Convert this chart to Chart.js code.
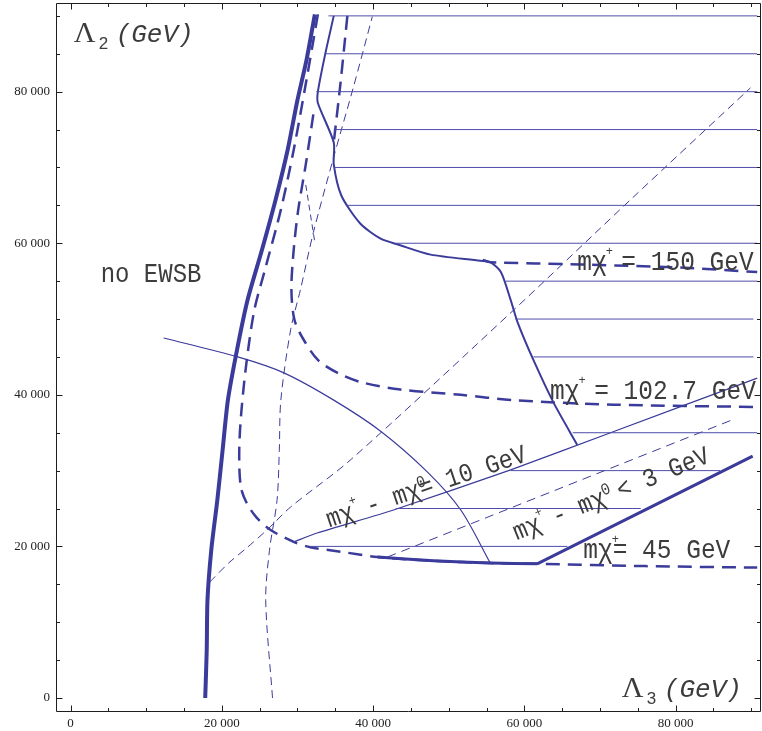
<!DOCTYPE html>
<html>
<head>
<meta charset="utf-8">
<script src="https://cdn.jsdelivr.net/npm/chart.js@4.4.0/dist/chart.umd.min.js"></script>
<style>
  html, body { margin: 0; padding: 0; background: #fff; }
  #caja { width: 762px; height: 731px; }
</style>
</head>
<body>
<div id="caja"><canvas id="grafica"></canvas></div>
<script>
// marcas de los ejes
const marcasX = [0, 20000, 40000, 60000, 80000];
const marcasY = [0, 20000, 40000, 60000, 80000];
const menoresX = [5000, 10000, 15000, 25000, 30000, 35000, 45000, 50000, 55000, 65000, 70000, 75000, 85000, 90000];
const menoresY = [5000, 10000, 15000, 25000, 30000, 35000, 45000, 50000, 55000, 65000, 70000, 75000, 85000, 90000];

// borde de EWSB (linea gruesa)
const ewsbX = [17800, 18000, 18100, 18600, 19400, 20100, 20800, 22000, 23400, 25300, 27100, 28700, 30000, 31200, 32300];
const ewsbY = [0, 6300, 12900, 19500, 26100, 32700, 39300, 45900, 52500, 59100, 65700, 72300, 78900, 84200, 90200];

// m chi+ = 45 GeV (discontinua)
const m45X = [32700, 31200, 29500, 27800, 25700, 24300, 23300, 22600, 22300, 22500, 23300, 24600, 26400, 29500, 31700, 35700, 40600, 48000, 55500, 61700, 76000, 90800];
const m45Y = [90200, 81600, 72300, 64400, 56500, 51200, 44600, 38000, 32700, 27900, 25700, 23800, 22200, 20600, 19900, 19300, 18600, 18100, 17800, 17700, 17400, 17200];

// m chi+ = 102.7 GeV
const m102X = [32100, 31100, 30100, 29500, 29200, 29600, 30800, 32700, 35300, 38300, 43600, 51600, 58600, 71800, 90800];
const m102Y = [77000, 70400, 64400, 59100, 53900, 49900, 47300, 44600, 42900, 41700, 40700, 40000, 39300, 38700, 38400];

// m chi+ = 150 GeV (dos tramos)
const m150aX = [36600, 35700, 34800];
const m150aY = [90000, 81200, 73300];
const m150bX = [54500, 55500, 67400, 80600, 90800];
const m150bY = [57800, 57500, 57200, 56800, 56200];

// frontera de la zona rayada superior
const fronteraX = [34800, 33700, 32700, 32700, 34800, 34800, 35800, 38300, 41000, 43400, 47600, 54200, 55500, 56900, 58200, 59100, 61200, 63900, 67000];
const fronteraY = [90000, 85100, 80000, 78500, 73300, 70400, 66300, 62600, 60600, 59800, 58500, 57700, 57500, 56200, 52500, 49600, 44600, 38900, 33400];

// tramo solido inferior y borde grueso derecho
const corteX = [40600, 48000, 55500, 61700];
const corteY = [18600, 18100, 17800, 17700];
const lepX = [61700, 90200];
const lepY = [17700, 31900];

// m chi+ - m chi0 = 10 GeV y < 3 GeV
const dif10X = [29500, 32700, 42700, 58200, 71400, 90800];
const dif10Y = [20600, 21800, 24800, 30100, 35000, 42200];
const dif3X = [41900, 87500];
const dif3Y = [18600, 36700];

// arco fino
const arcoX = [12300, 22100, 28200, 34800, 41000, 47200, 51600, 55500];
const arcoY = [47500, 45000, 42900, 39300, 35200, 29800, 24800, 17800];

// discontinuas finas
const finaAX = [18400, 20900, 23400, 26000, 29100, 37000, 58600, 74000, 89900];
const finaAY = [15300, 17800, 19900, 22200, 25200, 31400, 51200, 65700, 80500];
const finaBX = [26700, 25800, 26300, 27300, 27600, 27800, 29100, 30400, 32100, 34800, 37400, 39900];
const finaBY = [0, 12900, 19500, 26100, 32700, 39300, 48600, 53900, 61400, 71400, 80600, 89900];
const finaCX = [31100, 32300];
const finaCY = [67700, 60100];

// rayado horizontal
const rayasY = [90000, 85000, 80000, 75000, 70000, 65000, 60000, 55000, 50000, 45000, 35000, 30000, 25000, 20000];
const rayasDesde = [34100, 33700, 32500, 34800, 34800, 36400, 43000, 57500, 58800, 61200, 66400, 58200, 43000, 31700];
const rayasHasta = [90800, 90800, 90800, 90800, 90800, 90800, 90800, 90800, 90300, 90300, 90800, 85900, 75400, 65700];

const AZUL = '#3b3b9b';
const AZUL_RAYA = '#4d4dab';
const TINTA = '#3c3c3c';

function linea(xs, ys, ancho, guiones, tension, color) {
  return {
    data: xs.map((x, i) => ({ x: x, y: ys[i] })),
    showLine: true,
    pointRadius: 0,
    borderColor: color || AZUL,
    borderWidth: ancho,
    borderDash: guiones || [],
    tension: tension || 0,
    fill: false
  };
}

const conjuntos = [];
rayasY.forEach((v, i) => {
  conjuntos.push(linea([rayasDesde[i], rayasHasta[i]], [v, v], 1, null, 0, AZUL_RAYA));
});
conjuntos.push(linea(ewsbX, ewsbY, 4, null, 0.25));
conjuntos.push(linea(m45X, m45Y, 2.5, [14, 8], 0.3));
conjuntos.push(linea(m102X, m102Y, 2.5, [14, 8], 0.3));
conjuntos.push(linea(m150aX, m150aY, 2.5, [14, 8], 0.2));
conjuntos.push(linea(m150bX, m150bY, 2.5, [14, 8], 0.2));
conjuntos.push(linea(fronteraX, fronteraY, 2, null, 0.25));
conjuntos.push(linea(corteX, corteY, 3, null, 0.2));
conjuntos.push(linea(lepX, lepY, 3));
conjuntos.push(linea(dif10X, dif10Y, 1.2, null, 0.2));
conjuntos.push(linea(dif3X, dif3Y, 1, [9, 6]));
conjuntos.push(linea(arcoX, arcoY, 1.2, null, 0.3));
conjuntos.push(linea(finaAX, finaAY, 1, [8, 5], 0.3));
conjuntos.push(linea(finaBX, finaBY, 1, [8, 5], 0.3));
conjuntos.push(linea(finaCX, finaCY, 1, [6, 4]));

// textos en coordenadas de datos
const etiquetas = [
  { x: 3970, y: 54900, ang: 0, tam: 24, partes: [{ t: 'no EWSB' }] },
  { x: 67000, y: 56500, ang: 0, tam: 24.5, partes: [{ t: 'mχ' }, { t: '+', sup: 12, dy: -15 }, { t: ' = 150 GeV' }] },
  { x: 63400, y: 39500, ang: 0, tam: 24.5, partes: [{ t: 'mχ' }, { t: '+', sup: 12, dy: -15 }, { t: ' = 102.7 GeV' }] },
  { x: 67800, y: 18500, ang: 0, tam: 24.5, partes: [{ t: 'mχ' }, { t: '+', sup: 12, dy: -15 }, { t: '= 45 GeV' }] },
  { x: 34200, y: 22500, ang: -18.5, tam: 23.3, partes: [{ t: 'mχ' }, { t: '+', sup: 12, dy: -14 }, { t: ' - mχ' }, { t: '0', sup: 15, dy: -9 }, { t: '= 10 GeV' }] },
  { x: 59000, y: 20800, ang: -22, tam: 23.3, partes: [{ t: 'mχ' }, { t: '+', sup: 12, dy: -14 }, { t: ' - mχ' }, { t: '0', sup: 15, dy: -9 }, { t: ' < 3 GeV' }] }
];
const titulos = [
  { x: 400, y: 86600, sub: '2' },
  { x: 72900, y: 130, sub: '3' }
];

function escribir(ctx, e, px, py) {
  ctx.save();
  ctx.translate(px, py);
  ctx.rotate(e.ang * Math.PI / 180);
  ctx.scale(1, 1.12);
  ctx.fillStyle = TINTA;
  ctx.textBaseline = 'alphabetic';
  let cx = 0;
  e.partes.forEach(p => {
    if (p.sup) {
      ctx.font = p.sup + 'px "Liberation Mono"';
      ctx.fillText(p.t, cx - 1, p.dy / 1.12);
    } else {
      ctx.font = e.tam + 'px "Liberation Mono"';
      ctx.fillText(p.t, cx, 0);
      cx += ctx.measureText(p.t).width;
    }
  });
  ctx.restore();
}

function tituloEje(ctx, px, py, sub) {
  ctx.save();
  ctx.fillStyle = TINTA;
  ctx.textBaseline = 'alphabetic';
  ctx.font = '30px "Liberation Serif"';
  ctx.fillText('Λ', px, py);
  ctx.font = '17px "Liberation Sans"';
  ctx.fillText(sub, px + 25, py + 7);
  ctx.font = 'italic 26px "Liberation Mono"';
  ctx.fillText('(GeV)', px + 42, py);
  ctx.restore();
}

const marco = {
  id: 'marco',
  afterDraw(chart) {
    const { ctx, chartArea: a, scales: { x, y } } = chart;
    const izq = Math.round(a.left) - 0.5, der = Math.round(a.right) - 0.5;
    const arr = Math.round(a.top) + 0.5, aba = Math.round(a.bottom) - 0.5;
    ctx.save();
    ctx.strokeStyle = '#1e1e1e';
    ctx.lineWidth = 1;
    ctx.beginPath();
    ctx.rect(izq, arr, der - izq, aba - arr);
    const raya = (x1, y1, x2, y2) => { ctx.moveTo(x1, y1); ctx.lineTo(x2, y2); };
    [[marcasX, 6], [menoresX, 3.5]].forEach(([vals, largo]) => vals.forEach(v => {
      const px = Math.round(x.getPixelForValue(v)) + 0.5;
      raya(px, aba, px, aba - largo);
      raya(px, arr, px, arr + largo);
    }));
    [[marcasY, 6], [menoresY, 3.5]].forEach(([vals, largo]) => vals.forEach(v => {
      const py = Math.round(y.getPixelForValue(v)) + 0.5;
      raya(izq, py, izq + largo, py);
      raya(der, py, der - largo, py);
    }));
    ctx.stroke();
    ctx.restore();

    etiquetas.forEach(e => escribir(ctx, e, x.getPixelForValue(e.x), y.getPixelForValue(e.y)));
    titulos.forEach(t => tituloEje(ctx, x.getPixelForValue(t.x), y.getPixelForValue(t.y), t.sub));
  }
};

function miles(v) {
  return String(v).replace(/\B(?=(\d{3})+(?!\d))/g, ' ');
}

// sin relleno extra para las etiquetas de los extremos
function sinRelleno(s) {
  s.paddingTop = 0;
  s.paddingBottom = 0;
  s.paddingLeft = 0;
  s.paddingRight = 0;
}

new Chart(document.getElementById('grafica'), {
  type: 'scatter',
  data: { datasets: conjuntos },
  options: {
    responsive: true,
    maintainAspectRatio: false,
    animation: false,
    layout: { padding: { top: 3, right: 1, left: 0, bottom: 0 } },
    plugins: { legend: { display: false }, tooltip: { enabled: false } },
    scales: {
      x: {
        type: 'linear',
        min: -1800,
        max: 91300,
        grid: { display: false, drawTicks: false },
        border: { display: false },
        afterBuildTicks: s => { s.ticks = marcasX.map(v => ({ value: v })); },
        afterFit: s => { s.height = 19; sinRelleno(s); },
        ticks: {
          callback: v => miles(v),
          font: { family: '"Liberation Serif"', size: 13 },
          color: '#222',
          padding: 4,
          maxRotation: 0
        }
      },
      y: {
        type: 'linear',
        min: -1850,
        max: 91700,
        grid: { display: false, drawTicks: false },
        border: { display: false },
        afterBuildTicks: s => { s.ticks = marcasY.map(v => ({ value: v })); },
        afterFit: s => { s.width = 57; sinRelleno(s); },
        ticks: {
          callback: v => miles(v),
          font: { family: '"Liberation Serif"', size: 13 },
          color: '#222',
          padding: 7
        }
      }
    }
  },
  plugins: [marco]
});
</script>
</body>
</html>
